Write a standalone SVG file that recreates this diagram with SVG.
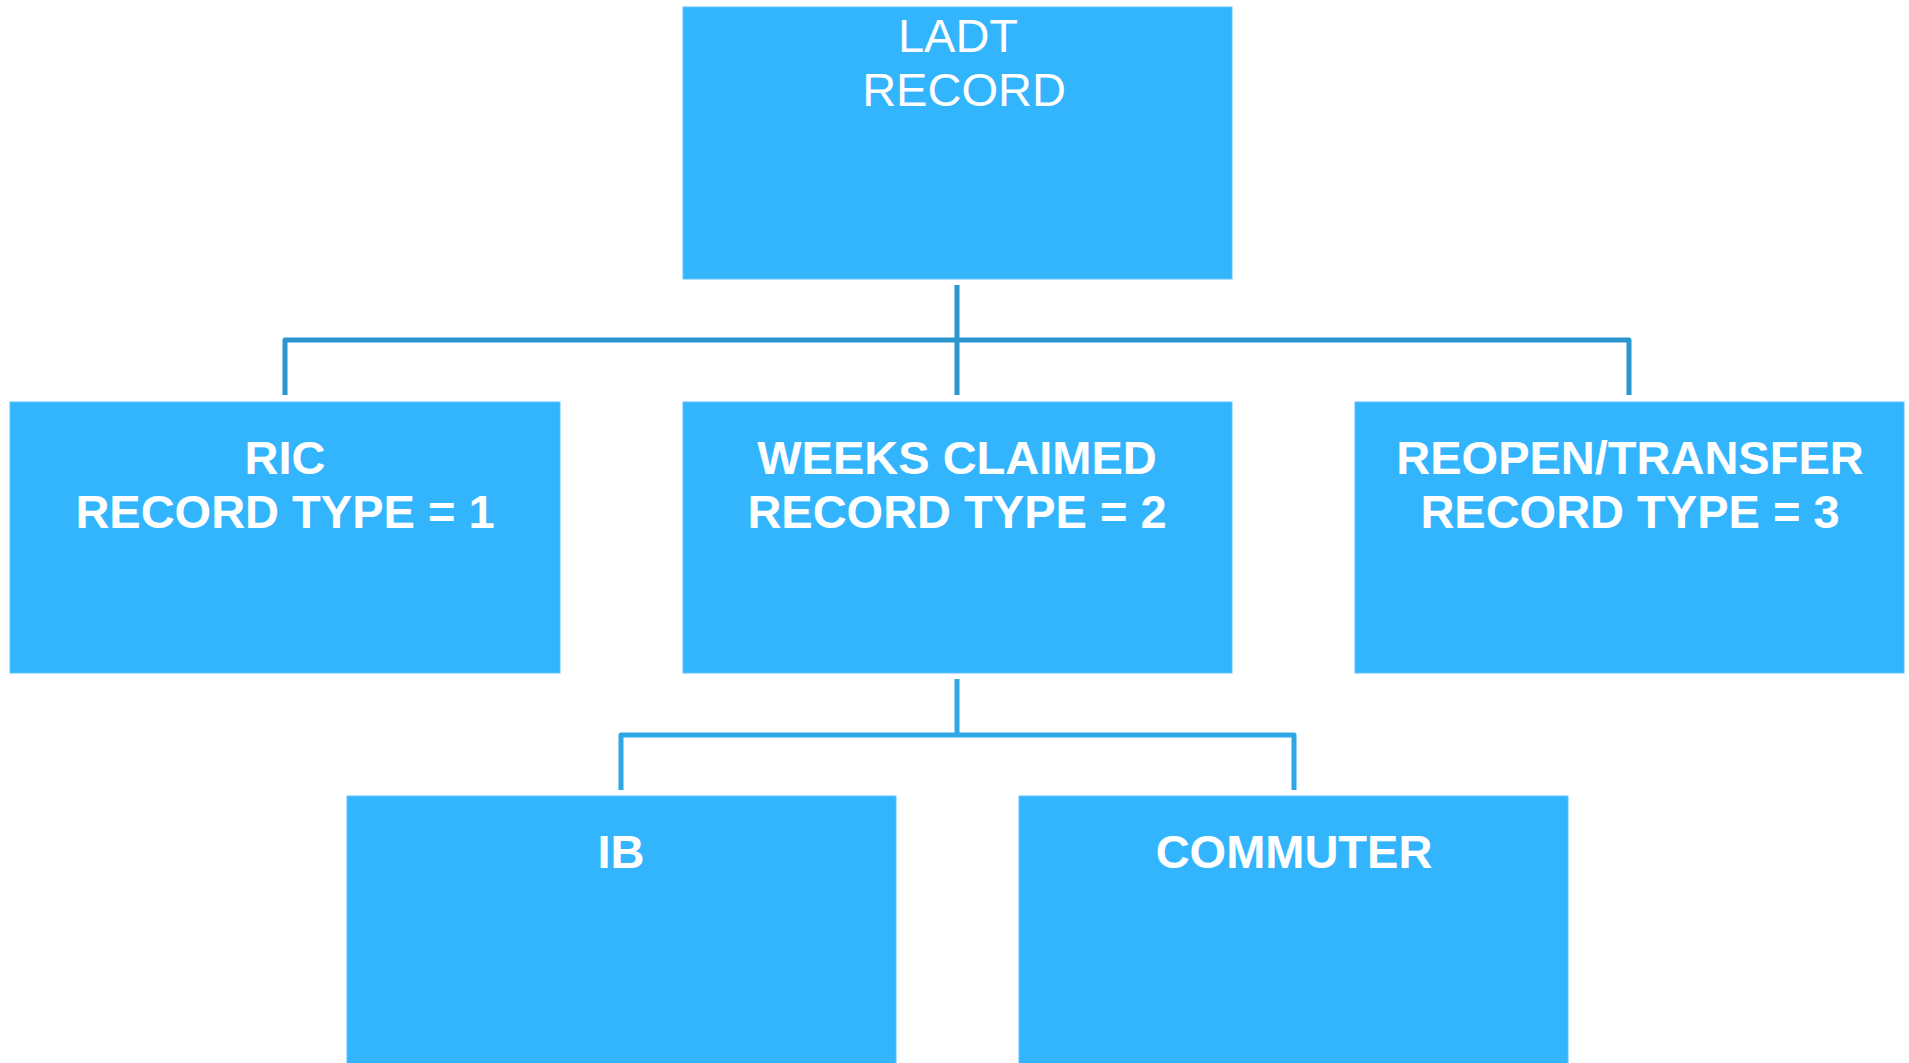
<svg xmlns="http://www.w3.org/2000/svg" width="1909" height="1063" viewBox="0 0 1909 1063">
<style>
.box{fill:#33b5fe;stroke:#5cc4fe;stroke-width:1}
.t{font-family:"Liberation Sans",Arial,sans-serif;font-size:47px;fill:#ffffff;text-anchor:middle}
.b{font-weight:bold}
.c1{fill:none;stroke:#2a95cf;stroke-width:5;stroke-linejoin:round}
.c2{fill:none;stroke:#2ea7e6;stroke-width:5;stroke-linejoin:round}
</style>
<rect width="1909" height="1063" fill="#ffffff"/>
<g id="connectors">
<path class="c1" d="M957 285 V395"/>
<path class="c1" d="M285 395 V340 H1629 V395"/>
<path class="c2" d="M957 679 V735"/>
<path class="c2" d="M621 790 V735 H1294 V790"/>
</g>
<g id="ladt">
<rect class="box" x="683" y="7" width="549" height="272"/>
<text class="t" x="958" y="52">LADT</text>
<text class="t" x="964" y="106">RECORD</text>
</g>
<g id="ric">
<rect class="box" x="10" y="402" width="550" height="271"/>
<text class="t b" x="285" y="474">RIC</text>
<text class="t b" x="285" y="528">RECORD TYPE = 1</text>
</g>
<g id="weeks">
<rect class="box" x="683" y="402" width="549" height="271"/>
<text class="t b" x="957" y="474">WEEKS CLAIMED</text>
<text class="t b" x="957" y="528">RECORD TYPE = 2</text>
</g>
<g id="reopen">
<rect class="box" x="1355" y="402" width="549" height="271"/>
<text class="t b" x="1630" y="474">REOPEN/TRANSFER</text>
<text class="t b" x="1630" y="528">RECORD TYPE = 3</text>
</g>
<g id="ib">
<rect class="box" x="347" y="796" width="549" height="280"/>
<text class="t b" x="621" y="868">IB</text>
</g>
<g id="commuter">
<rect class="box" x="1019" y="796" width="549" height="280"/>
<text class="t b" x="1294" y="868">COMMUTER</text>
</g>
</svg>
